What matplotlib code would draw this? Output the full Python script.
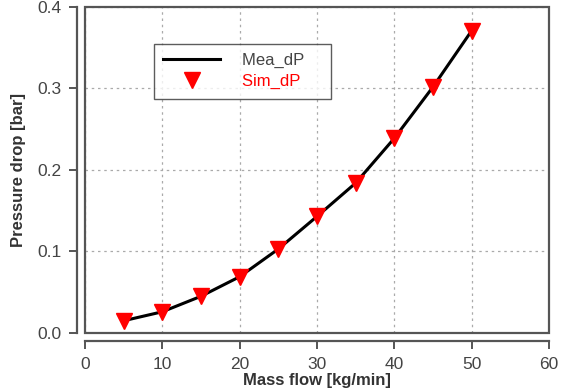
import numpy as np
import matplotlib.pyplot as plt
from matplotlib.patches import Rectangle

# Data
mass_flow = np.array([5, 10, 15, 20, 25, 30, 35, 40, 45, 50])
mea_dp = np.array([0.015, 0.026, 0.045, 0.069, 0.103, 0.143, 0.184, 0.239, 0.302, 0.371])
sim_dp = np.array([0.015, 0.026, 0.045, 0.069, 0.103, 0.143, 0.184, 0.239, 0.302, 0.371])

plt.rcParams['font.family'] = ['Liberation Sans', 'DejaVu Sans']
grey = '#555555'

fig = plt.figure(figsize=(5.62, 3.89), dpi=100)
ax = fig.add_axes([0.151, 0.144, 0.826, 0.838])

ax.plot(mass_flow, mea_dp, '-', color='black', lw=2.2, label='Mea_dP', zorder=3)
ax.plot(mass_flow, sim_dp, 'v', color='red', ms=11, ls='none', label='Sim_dP', zorder=4)

ax.set_xlim(0, 60)
ax.set_ylim(0, 0.4)
ax.set_xticks(np.arange(0, 61, 10))
ax.set_yticks([0.0, 0.1, 0.2, 0.3, 0.4])
ax.set_yticklabels(['0.0', '0.1', '0.2', '0.3', '0.4'])

ax.grid(linestyle=(0, (2, 3)), linewidth=0.9, color='#aaaaaa')

# detached axes like Igor
for s in ['top', 'right']:
    ax.spines[s].set_visible(False)
for s in ['left', 'bottom']:
    ax.spines[s].set_position(('outward', 6))
    ax.spines[s].set_color(grey)
    ax.spines[s].set_linewidth(1.6)
ax.add_patch(Rectangle((0, 0), 1, 1, transform=ax.transAxes, fill=False,
                       edgecolor=grey, lw=1.6, clip_on=False, zorder=5))

ax.tick_params(colors=grey, labelcolor='#444444', labelsize=12.5, width=1.4, length=6, pad=5)

ax.set_xlabel('Mass flow [kg/min]', fontsize=12, fontweight='bold', color='#333333', labelpad=1)
ax.set_ylabel('Pressure drop [bar]', fontsize=12, fontweight='bold', color='#333333', labelpad=8)

leg = ax.legend(loc='upper left', bbox_to_anchor=(0.149, 0.886), fontsize=12, frameon=True,
                fancybox=False, edgecolor='#333333', handlelength=3.4, handletextpad=1.3,
                borderpad=0.55, labelspacing=0.35, borderaxespad=0)
leg.get_frame().set_linewidth(1.0)
leg.get_texts()[0].set_color('#444444')
leg.get_texts()[1].set_color('red')
# widen box a bit to the right like reference
for t in leg.get_texts():
    t.set_text(t.get_text() + '    ')

fig.savefig('out.png', dpi=100)
